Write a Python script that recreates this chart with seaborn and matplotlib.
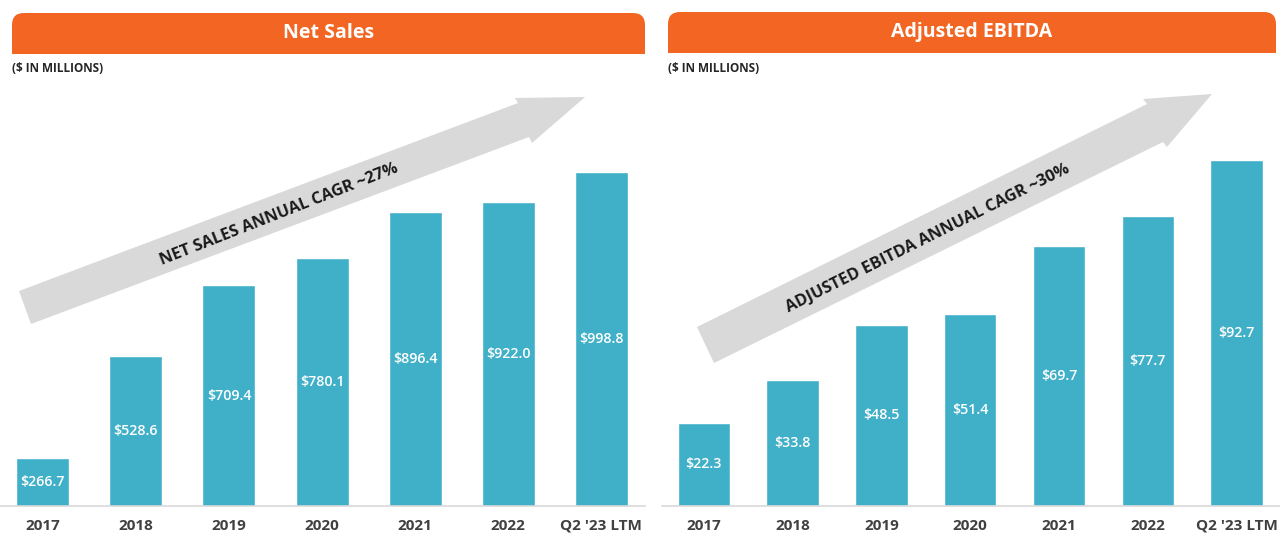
import pandas as pd
import matplotlib.pyplot as plt
import seaborn as sns
from matplotlib.patches import FancyBboxPatch, Rectangle, Polygon

# data
years = ['2017', '2018', '2019', '2020', '2021', '2022', "Q2 '23 LTM"]
net_sales = [266.7, 528.6, 709.4, 780.1, 896.4, 922.0, 998.8]
adj_ebitda = [22.3, 33.8, 48.5, 51.4, 69.7, 77.7, 92.7]

df = pd.DataFrame({'Year': years, 'Net Sales': net_sales, 'Adjusted EBITDA': adj_ebitda})

sns.set_theme(style='white')
plt.rcParams['font.family'] = ['Open Sans', 'DejaVu Sans']

ORANGE = '#F26522'
TEAL = '#40AFC8'
GREY = '#D9D9D9'
DARK = '#404040'

fig = plt.figure(figsize=(12.8, 5.38), dpi=100)

# background layer in pixel coordinates for headers / arrows
bg = fig.add_axes([0, 0, 1, 1], zorder=0)
bg.set_xlim(0, 1280)
bg.set_ylim(538, 0)
bg.axis('off')


def header(x0, x1, y0, y1, title):
    bg.add_patch(FancyBboxPatch((x0, y0), x1 - x0, y1 - y0,
                                boxstyle='round,pad=0,rounding_size=12',
                                fc=ORANGE, ec='none'))
    bg.add_patch(Rectangle((x0, (y0 + y1) / 2), x1 - x0, (y1 - y0) / 2, fc=ORANGE, ec='none'))
    bg.text((x0 + x1) / 2, (y0 + y1) / 2, title, color='white', fontsize=14,
            fontweight='bold', ha='center', va='center')
    bg.text(x0, 69, '($ IN MILLIONS)', color='#262626', fontsize=8.5,
            fontweight='bold', ha='left', va='center')


header(12, 645, 13, 54, 'Net Sales')
header(668, 1276, 12, 53, 'Adjusted EBITDA')

# growth arrows (decoration)
bg.add_patch(Polygon([(19, 291), (518, 103), (515, 98), (585, 97), (532, 143),
                      (529, 137), (31, 324)], closed=True, fc=GREY, ec='none'))
bg.add_patch(Polygon([(697, 327), (1147, 104), (1143, 99), (1212, 94), (1167, 147),
                      (1163, 142), (714, 363)], closed=True, fc=GREY, ec='none'))
bg.text(279, 215, 'NET SALES ANNUAL CAGR ~27%', rotation=21.5, fontsize=11.8,
        fontweight='bold', color='#1a1a1a', ha='center', va='center', rotation_mode='anchor')
bg.text(928, 238, 'ADJUSTED EBITDA ANNUAL CAGR ~30%', rotation=26.5, fontsize=11.8,
        fontweight='bold', color='#1a1a1a', ha='center', va='center', rotation_mode='anchor')

bottom = (538 - 506) / 538
height = (506 - 140) / 538


def panel(rect, col, ylim, xlim, width):
    ax = fig.add_axes(rect, zorder=1)
    ax.patch.set_alpha(0)
    sns.barplot(data=df, x='Year', y=col, color=TEAL, saturation=1, width=width, ax=ax)
    ax.set_ylim(*ylim)
    ax.set_xlim(*xlim)
    ax.set_xlabel('')
    ax.set_ylabel('')
    ax.set_yticks([])
    for s in ['top', 'left', 'right']:
        ax.spines[s].set_visible(False)
    ax.spines['bottom'].set_color(GREY)
    ax.spines['bottom'].set_linewidth(1.2)
    ax.tick_params(axis='x', length=0, pad=9, labelsize=11, labelcolor=DARK)
    for lab in ax.get_xticklabels():
        lab.set_fontweight('bold')
    for i, v in enumerate(df[col]):
        ax.text(i, (ylim[0] + v) / 2, f'${v:.1f}', color='white', fontsize=10.3,
                fontweight='semibold', ha='center', va='center')
    return ax


panel([0, bottom, 645 / 1280, height], 'Net Sales', (144.6, 1080.7), (-0.46, 6.47), 0.57)
panel([662 / 1280, bottom, 618 / 1280, height], 'Adjusted EBITDA', (0, 97.97), (-0.47, 6.49), 0.59)

plt.savefig('out.png', dpi=100)
